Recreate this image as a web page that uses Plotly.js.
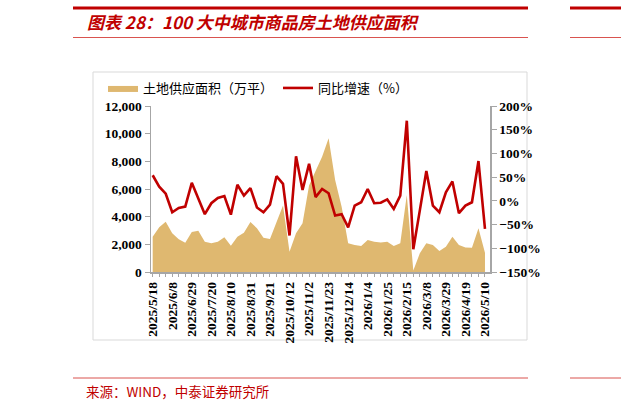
<!DOCTYPE html>
<html>
<head>
<meta charset="utf-8">
<script src="https://cdn.plot.ly/plotly-3.0.1.min.js"></script>
<style>html,body{margin:0;padding:0;background:#fff;}#chart{width:621px;height:409px;}</style>
</head>
<body>
<div id="chart"></div>
<script>
const dates = [
  "2025/5/18","2025/5/25","2025/6/1","2025/6/8","2025/6/15","2025/6/22","2025/6/29",
  "2025/7/6","2025/7/13","2025/7/20","2025/7/27","2025/8/3","2025/8/10","2025/8/17",
  "2025/8/24","2025/8/31","2025/9/7","2025/9/14","2025/9/21","2025/9/28","2025/10/5",
  "2025/10/12","2025/10/19","2025/10/26","2025/11/2","2025/11/9","2025/11/16","2025/11/23",
  "2025/11/30","2025/12/7","2025/12/14","2025/12/21","2025/12/28","2026/1/4","2026/1/11",
  "2026/1/18","2026/1/25","2026/2/1","2026/2/8","2026/2/15","2026/2/22","2026/3/1",
  "2026/3/8","2026/3/15","2026/3/22","2026/3/29","2026/4/5","2026/4/12","2026/4/19",
  "2026/4/26","2026/5/3","2026/5/10"
];
const xTickLabels = [
  "2025/5/18","2025/6/8","2025/6/29","2025/7/20","2025/8/10","2025/8/31","2025/9/21",
  "2025/10/12","2025/11/2","2025/11/23","2025/12/14","2026/1/4","2026/1/25","2026/2/15",
  "2026/3/8","2026/3/29","2026/4/19","2026/5/10"
];
const landSupply = [
  2550,3230,3640,2800,2360,2120,2890,2990,2190,2070,
  2190,2510,1900,2550,2840,3620,3160,2480,2390,3640,
  4800,1470,2800,3520,6250,7300,8340,9660,6650,4720,
  2070,1950,1880,2310,2190,2140,2190,1880,2070,5570,
  100,1350,2070,1950,1520,1830,2550,1950,1780,1760,
  3160,1400
];
const yoyGrowth = [
  54,30,15,-24,-15,-12,38,6,-28,-5,
  6,10,-29,34,11,27,-14,-24,-8,52,
  36,-73,94,23,78,8,25,16,-31,-28,
  -56,-10,-3,25,-5,-4,3,-17,11,169,
  -102,-20,63,-10,-24,18,41,-26,-10,-3,
  84,-59
];
const seriesNames = ["土地供应面积（万平）", "同比增速（%）"];
const titleText = "图表 28：100 大中城市商品房土地供应面积";
const sourceText = "来源：WIND，中泰证券研究所";

// plot area in pixels: x 151..490, y 106..272
const L = 151, R = 490, T = 106, B = 272;
const PW = R - L, PH = B - T;
const px = v => (v - L) / PW;
const py = v => (B - v) / PH;

const red = "#C00000";
const tan = "#DFB870";
const axisGray = "#A6A6A6";
const serif = "Liberation Serif, Times New Roman, serif";
const tickFont = {family: serif, size: 13.5, color: "#000", weight: "bold"};

const traces = [
  {
    x: dates, y: landSupply, name: seriesNames[0], type: "scatter", mode: "lines",
    fill: "tozeroy", fillcolor: tan, line: {width: 0, color: tan}, yaxis: "y"
  },
  {
    x: dates, y: yoyGrowth, name: seriesNames[1], type: "scatter", mode: "lines",
    line: {width: 2.6, color: red}, yaxis: "y2"
  }
];

const ticktext = dates.map(d => xTickLabels.includes(d) ? d : "");

const layout = {
  width: 621, height: 409,
  margin: {l: L, r: 621 - R, t: T, b: 409 - B, pad: 0},
  paper_bgcolor: "#fff", plot_bgcolor: "rgba(0,0,0,0)",
  showlegend: true,
  legend: {
    orientation: "h", x: px(103), xanchor: "left", y: py(88), yanchor: "middle",
    font: {family: "Noto Sans CJK SC", size: 13, color: "#000"},
    bgcolor: "rgba(0,0,0,0)", itemwidth: 30, traceorder: "normal"
  },
  xaxis: {
    type: "category", range: [-0.26, 51.77],
    tickmode: "array", tickvals: dates, ticktext: ticktext,
    tickangle: -90, tickfont: {family: serif, size: 13.5, color: "#000", weight: "bold"},
    showline: true, linecolor: axisGray, linewidth: 1.5,
    ticks: "outside", ticklen: 3, tickcolor: axisGray,
    showgrid: false, zeroline: false, fixedrange: true
  },
  yaxis: {
    range: [0, 12000], dtick: 2000, tickformat: ",d",
    showline: true, linecolor: axisGray, linewidth: 1.5,
    ticks: "outside", ticklen: 5, tickcolor: axisGray,
    tickfont: tickFont, showgrid: false, zeroline: false, fixedrange: true
  },
  yaxis2: {
    overlaying: "y", side: "right",
    range: [-150, 200], dtick: 50, ticksuffix: "%",
    showline: true, linecolor: axisGray, linewidth: 1.5,
    ticks: "outside", ticklen: 5, tickcolor: axisGray,
    tickfont: tickFont, showgrid: false, zeroline: false, fixedrange: true
  },
  shapes: [
    {type: "line", xref: "paper", yref: "paper", x0: px(73), x1: px(528), y0: py(8), y1: py(8), line: {color: red, width: 3}},
    {type: "line", xref: "paper", yref: "paper", x0: px(570), x1: px(621), y0: py(8), y1: py(8), line: {color: red, width: 3}},
    {type: "line", xref: "paper", yref: "paper", x0: px(73), x1: px(528), y0: py(37.5), y1: py(37.5), line: {color: "#D9534F", width: 1}},
    {type: "line", xref: "paper", yref: "paper", x0: px(570), x1: px(621), y0: py(37.5), y1: py(37.5), line: {color: "#D9534F", width: 1}},
    {type: "line", xref: "paper", yref: "paper", x0: px(73), x1: px(528), y0: py(378), y1: py(378), line: {color: "#D9534F", width: 1}},
    {type: "line", xref: "paper", yref: "paper", x0: px(570), x1: px(621), y0: py(378), y1: py(378), line: {color: "#D9534F", width: 1}},
    {type: "rect", xref: "paper", yref: "paper", x0: px(93), x1: px(527), y0: py(72), y1: py(340), line: {color: "#D9D9D9", width: 1}, fillcolor: "rgba(0,0,0,0)", layer: "below"}
  ],
  annotations: [
    {xref: "paper", yref: "paper", x: px(85), y: py(22), xanchor: "left", yanchor: "middle", showarrow: false,
     text: titleText, font: {family: "Noto Sans CJK SC", size: 17, color: red, weight: "bold", style: "italic"}},
    {xref: "paper", yref: "paper", x: px(84), y: py(391), xanchor: "left", yanchor: "middle", showarrow: false,
     text: sourceText, font: {family: "Noto Sans CJK SC", size: 13.5, color: red}}
  ],
  hovermode: false
};

Plotly.newPlot("chart", traces, layout, {displayModeBar: false, staticPlot: true});
</script>
</body>
</html>
